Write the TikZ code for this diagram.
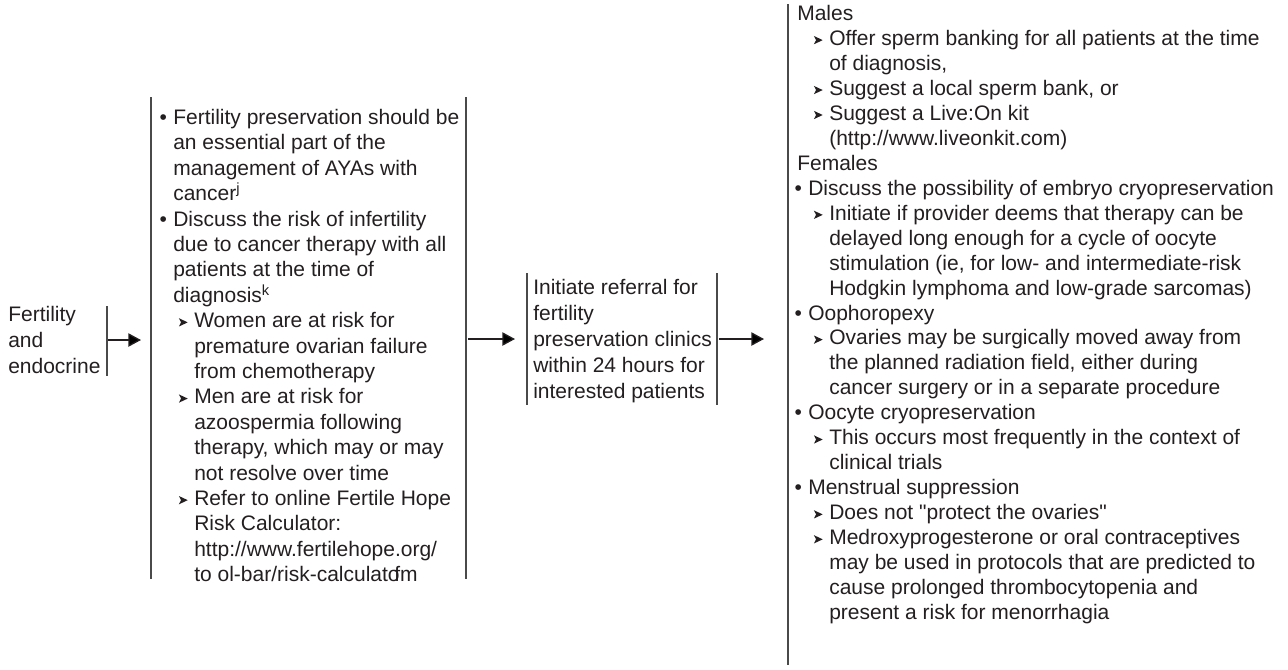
\documentclass[tikz,border=0pt]{standalone}
\usepackage{fontspec}
\setmainfont{Liberation Sans}
\newfontfamily\lsplain{Liberation Sans}
\usetikzlibrary{arrows.meta}
\definecolor{txt}{HTML}{231F20}
\definecolor{barc}{HTML}{4A4A4A}
\newcommand\SubArr{\tikz[baseline=0pt]\fill[txt] (0pt,0.9pt) -- (6.6pt,4pt) -- (0pt,7.1pt) -- (1.6pt,4pt) -- cycle;}
\newcommand\Bul{\makebox[8.25pt][l]{\hspace*{-2pt}•}}
\newcommand\Bin{\hspace*{8.25pt}}
\newcommand\Sub{\hspace*{12.5pt}\makebox[11.5pt][l]{\SubArr}}
\newcommand\Sin{\hspace*{24pt}}
\newcommand\SQ{{\lsplain"}}
\tikzset{
  txtnode/.style={anchor=north west, inner sep=0pt, align=left, text=txt},
  bar/.style={draw=barc, line width=1.1pt},
  arr/.style={draw=txt, line width=1pt, -{Triangle[length=9.5pt,width=10pt]}}
}
\begin{document}
\begin{tikzpicture}[x=0.75pt,y=-0.75pt]
\useasboundingbox (0,0) rectangle (1288,669);

% left node
\node[txtnode, font=\fontsize{15.75pt}{19.5pt}\selectfont] (fert) at (8,306)
 {Fertility\\and\\endocrine};
\coordinate (b1t) at (107,306);
\coordinate (b1b) at (107,376);
\draw[bar] (b1t) -- (b1b);

% column 2
\coordinate (b2lt) at (151,97);
\coordinate (b2lb) at (151,579);
\coordinate (b2rt) at (466,97);
\coordinate (b2rb) at (466,579);
\draw[bar] (b2lt) -- (b2lb);
\draw[bar] (b2rt) -- (b2rb);
\node[txtnode, font=\fontsize{15.75pt}{19.05pt}\selectfont] (col2) at (162,109)
 {\Bul Fertility preservation should be\\
  \Bin an essential part of the\\
  \Bin management of AYAs with\\
  \Bin cancer\textsuperscript{j}\\
  \Bul Discuss the risk of infertility\\
  \Bin due to cancer therapy with all\\
  \Bin patients at the time of\\
  \Bin diagnosis\textsuperscript{k}\\
  \Sub Women are at risk for\\
  \Sin premature ovarian failure\\
  \Sin from chemotherapy\\
  \Sub Men are at risk for\\
  \Sin azoospermia following\\
  \Sin therapy, which may or may\\
  \Sin not resolve over time\\
  \Sub Refer to online Fertile Hope\\
  \Sin Risk Calculator:\\
  \Sin http://www.fertilehope.org/\\
  \Sin to ol-bar/risk-calculato\kern-4pt fm};

% column 3
\coordinate (b3lt) at (527,273);
\coordinate (b3lb) at (527,405);
\coordinate (b3rt) at (717,273);
\coordinate (b3rb) at (717,405);
\draw[bar] (b3lt) -- (b3lb);
\draw[bar] (b3rt) -- (b3rb);
\node[txtnode, font=\fontsize{15.75pt}{19.5pt}\selectfont] (col3) at (533,279)
 {Initiate referral for\\fertility\\preservation clinics\\within 24 hours for\\interested patients};

% column 4
\coordinate (b4t) at (788,4);
\coordinate (b4b) at (788,665);
\draw[bar] (b4t) -- (b4b);
\node[txtnode, font=\fontsize{15.75pt}{18.72pt}\selectfont] (col4) at (797,5)
 {Males\\
  \Sub Offer sperm banking for all patients at the time\\
  \Sin of diagnosis,\\
  \Sub Suggest a local sperm bank, or\\
  \Sub Suggest a Live:On kit\\
  \Sin (http://www.liveonkit.com)\\
  Females\\
  \Bul Discuss the possibility of embryo cryopreservation\\
  \Sub Initiate if provider deems that therapy can be\\
  \Sin delayed long enough for a cycle of oocyte\\
  \Sin stimulation (ie, for low- and intermediate-risk\\
  \Sin Hodgkin lymphoma and low-grade sarcomas)\\
  \Bul Oophoropexy\\
  \Sub Ovaries may be surgically moved away from\\
  \Sin the planned radiation field, either during\\
  \Sin cancer surgery or in a separate procedure\\
  \Bul Oocyte cryopreservation\\
  \Sub This occurs most frequently in the context of\\
  \Sin clinical trials\\
  \Bul Menstrual suppression\\
  \Sub Does not \SQ protect the ovaries\SQ\\
  \Sub Medroxyprogesterone or oral contraceptives\\
  \Sin may be used in protocols that are predicted to\\
  \Sin cause prolonged thrombocytopenia and\\
  \Sin present a risk for menorrhagia};

% arrows
\coordinate (a1s) at (108,340);
\coordinate (a1e) at (141,340);
\coordinate (a2s) at (468,339);
\coordinate (a2e) at (515,339);
\coordinate (a3s) at (719,339);
\coordinate (a3e) at (764,339);
\draw[arr] (a1s) -- (a1e);
\draw[arr] (a2s) -- (a2e);
\draw[arr] (a3s) -- (a3e);
\end{tikzpicture}
\end{document}
